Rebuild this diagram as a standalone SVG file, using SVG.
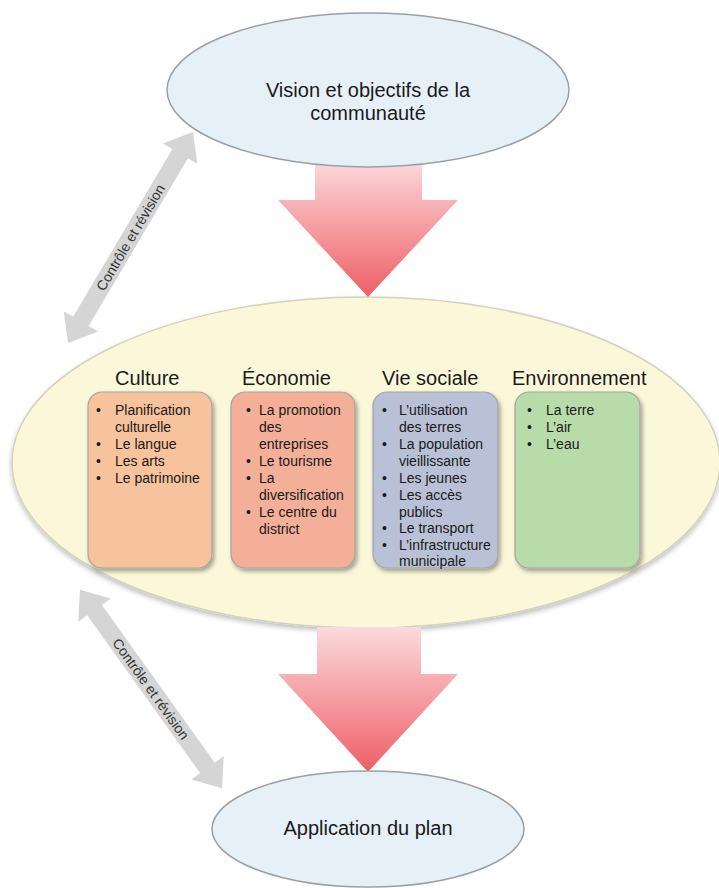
<svg xmlns="http://www.w3.org/2000/svg" width="719" height="888" viewBox="0 0 719 888">
<defs>
<linearGradient id="pink" x1="0" y1="0" x2="0" y2="1">
<stop offset="0" stop-color="#fbdadc"/>
<stop offset="1" stop-color="#ee5e66"/>
</linearGradient>
<filter id="sh" x="-10%" y="-10%" width="130%" height="130%">
<feDropShadow dx="2" dy="3" stdDeviation="2" flood-color="#000" flood-opacity="0.35"/>
</filter>
<filter id="sh2" x="-5%" y="-5%" width="110%" height="115%">
<feDropShadow dx="0" dy="3" stdDeviation="2.5" flood-color="#000" flood-opacity="0.25"/>
</filter>
</defs>
<style>
text{font-family:"Liberation Sans",Arial,sans-serif;fill:#1a1a1a}
.t20{font-size:20px}
.head{font-size:20px}
.li{font-size:14px}
.lbl{font-size:14px;fill:#333}
.blue{fill:#e5f1f7;stroke:#9b9fa3;stroke-width:1.5}
.box{stroke:#a3a3a3;stroke-width:1.2}
.grey{fill:#d5d5d5}
.pk{fill:url(#pink)}
</style>
<rect width="719" height="888" fill="#fff"/>

<g id="center">
<ellipse cx="366" cy="462.5" rx="354" ry="165.5" fill="#fbf8da" stroke="#d4d1bd" stroke-width="1.5" filter="url(#sh2)"/>
</g>

<g id="connectors">
<polygon class="pk" points="315,160 422,160 422,200 458,200 368,297 278,200 315,200"/>
<polygon class="pk" points="317,627 421,627 421,674 458,674 368,772 278,674 317,674"/>
<g transform="translate(130.5,237.5) rotate(-59.4)">
<polygon class="grey" points="-122.5,0 -97.5,-20 -97.5,-9 97.5,-9 97.5,-20 122.5,0 97.5,20 97.5,9 -97.5,9 -97.5,20"/>
<text class="lbl" x="0" y="5" text-anchor="middle">Contrôle et révision</text>
</g>
<g transform="translate(151,689) rotate(54.4)">
<polygon class="grey" points="-122,0 -97,-20 -97,-9 97,-9 97,-20 122,0 97,20 97,9 -97,9 -97,20"/>
<text class="lbl" x="0" y="5" text-anchor="middle">Contrôle et révision</text>
</g>
</g>

<g id="vision">
<ellipse class="blue" cx="368" cy="90" rx="201" ry="77"/>
<text class="t20" x="368" y="97" text-anchor="middle">Vision et objectifs de la</text>
<text class="t20" x="368" y="120" text-anchor="middle">communauté</text>
</g>

<g id="application">
<ellipse class="blue" cx="368" cy="829" rx="156" ry="58"/>
<text class="t20" x="368" y="835" text-anchor="middle">Application du plan</text>
</g>

<g id="culture">
<text class="head" x="115" y="385">Culture</text>
<rect class="box" x="88" y="392" width="124" height="176" rx="14" fill="#f6c39c" filter="url(#sh)"/>
<g class="li">
<text x="96" y="415" class="li">•</text><text x="115" y="415" class="li">Planification</text>
<text x="115" y="432" class="li">culturelle</text>
<text x="96" y="449" class="li">•</text><text x="115" y="449" class="li">Le langue</text>
<text x="96" y="466" class="li">•</text><text x="115" y="466" class="li">Les arts</text>
<text x="96" y="483" class="li">•</text><text x="115" y="483" class="li">Le patrimoine</text>
</g>
</g>

<g id="economie">
<text class="head" x="242" y="385">Économie</text>
<rect class="box" x="231" y="392" width="124" height="176" rx="14" fill="#f3af98" filter="url(#sh)"/>
<text x="246" y="415" class="li">•</text><text x="259" y="415" class="li">La promotion</text>
<text x="259" y="432" class="li">des</text>
<text x="259" y="449" class="li">entreprises</text>
<text x="246" y="466" class="li">•</text><text x="259" y="466" class="li">Le tourisme</text>
<text x="246" y="483" class="li">•</text><text x="259" y="483" class="li">La</text>
<text x="259" y="500" class="li">diversification</text>
<text x="246" y="517" class="li">•</text><text x="259" y="517" class="li">Le centre du</text>
<text x="259" y="534" class="li">district</text>
</g>

<g id="vie-sociale">
<text class="head" x="382" y="385">Vie sociale</text>
<rect class="box" x="373" y="392" width="125" height="176" rx="14" fill="#b8c1d6" filter="url(#sh)"/>
<text x="382" y="415" class="li">•</text><text x="399" y="415" class="li">L’utilisation</text>
<text x="399" y="432" class="li">des terres</text>
<text x="382" y="449" class="li">•</text><text x="399" y="449" class="li">La population</text>
<text x="399" y="466" class="li">vieillissante</text>
<text x="382" y="483" class="li">•</text><text x="399" y="483" class="li">Les jeunes</text>
<text x="382" y="500" class="li">•</text><text x="399" y="500" class="li">Les accès</text>
<text x="399" y="516.5" class="li">publics</text>
<text x="382" y="533" class="li">•</text><text x="399" y="533" class="li">Le transport</text>
<text x="382" y="550" class="li">•</text><text x="399" y="550" class="li">L’infrastructure</text>
<text x="399" y="566" class="li">municipale</text>
</g>

<g id="environnement">
<text class="head" x="512" y="385">Environnement</text>
<rect class="box" x="515" y="392" width="125" height="176" rx="14" fill="#b7dcaa" filter="url(#sh)"/>
<text x="527" y="415" class="li">•</text><text x="546" y="415" class="li">La terre</text>
<text x="527" y="432" class="li">•</text><text x="546" y="432" class="li">L’air</text>
<text x="527" y="449" class="li">•</text><text x="546" y="449" class="li">L’eau</text>
</g>
</svg>
